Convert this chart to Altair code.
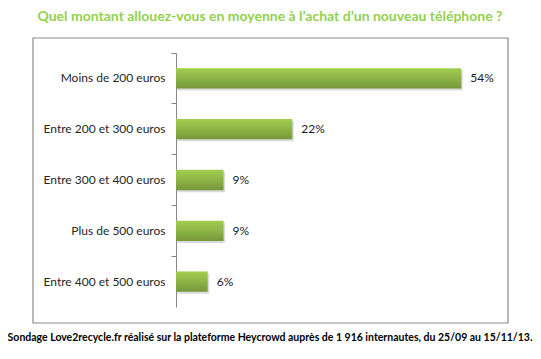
import altair as alt
import pandas as pd

categories = ["Moins de 200 euros", "Entre 200 et 300 euros", "Entre 300 et 400 euros",
              "Plus de 500 euros", "Entre 400 et 500 euros"]
values = [54, 22, 9, 9, 6]
title_text = "Quel montant allouez-vous en moyenne à l’achat d’un nouveau téléphone ?"
footer_text = "Sondage Love2recycle.fr réalisé sur la plateforme Heycrowd auprès de 1 916 internautes, du 25/09 au 15/11/13."

df = pd.DataFrame({"cat": categories, "v": values})
df["label"] = [f"{v}%" for v in values]

W, H = 317, 254
FONT = "Lato"

y_enc = alt.Y("cat:N", sort=categories, title=None,
              scale=alt.Scale(paddingInner=0, paddingOuter=0),
              axis=alt.Axis(bandPosition=0, tickExtra=True, tickSize=5, tickColor="#888888",
                            domainColor="#888888", labelFont=FONT, labelFontSize=12,
                            labelColor="#262626", labelPadding=6, grid=False))
x_enc = alt.X("v:Q", scale=alt.Scale(domain=[0, 60]), axis=None)

base = alt.Chart(df)

shadow = base.mark_bar(height={"band": 0.4}, color="#999999", opacity=0.35,
                       xOffset=1.5, yOffset=2).encode(x=x_enc, y=y_enc)

bars = base.mark_bar(height={"band": 0.4},
                     color=alt.Gradient(gradient="linear", x1=0, y1=0, x2=0, y2=1,
                                        stops=[alt.GradientStop(color="#a2cd4f", offset=0),
                                               alt.GradientStop(color="#8db446", offset=0.5),
                                               alt.GradientStop(color="#76963a", offset=1)])
                     ).encode(x=x_enc, y=y_enc)

texts = base.mark_text(align="left", dx=9, font=FONT, fontSize=12, color="#1a1a1a").encode(
    x=x_enc, y=y_enc, text="label:N")

one = alt.Data(values=[{"k": 1}])

frame = alt.Chart(one).mark_rect(fill="white", fillOpacity=0, stroke="#8a8a8a",
                                 strokeWidth=1.2).encode(
    x=alt.value(-143), x2=alt.value(332), y=alt.value(-15), y2=alt.value(270))

title = alt.Chart(one).mark_text(font=FONT, fontSize=14, fontWeight="bold", color="#92D050",
                                 align="center", baseline="middle").encode(
    x=alt.value(94), y=alt.value(-36), text=alt.value(title_text))

footer = alt.Chart(one).mark_text(font=FONT, fontSize=10.5, fontWeight="bold", color="#000000",
                                  align="center", baseline="middle").encode(
    x=alt.value(94), y=alt.value(285), text=alt.value(footer_text))

chart = alt.layer(frame, shadow, bars, texts, title, footer).properties(
    width=W, height=H,
    autosize=alt.AutoSizeParams(type="none"),
    padding={"left": 168, "top": 45, "right": 40, "bottom": 40},
    background="white",
).configure_view(stroke=None)

chart.save("out.html", embed_options={"renderer": "svg", "actions": False})
